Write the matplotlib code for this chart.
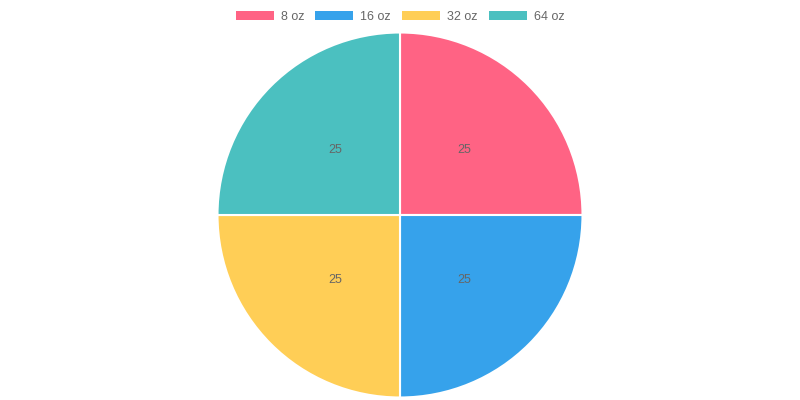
import matplotlib
matplotlib.use('Agg')
import matplotlib.pyplot as plt
from matplotlib.patches import Patch

# datos del grafico
etiquetas = ['8 oz', '16 oz', '32 oz', '64 oz']
valores = [25, 25, 25, 25]
colores = ['#FF6384', '#36A2EB', '#FFCE56', '#4BC0C0']

plt.rcParams['font.family'] = ['Liberation Sans', 'DejaVu Sans']

fig = plt.figure(figsize=(8, 4), dpi=100)
# centro (400,215) px, radio ~182.5 px
ax = fig.add_axes([217.5 / 800, 2.5 / 400, 365 / 800, 365 / 400])

wedges, textos = ax.pie(valores, colors=colores, startangle=90, counterclock=False,
                        labels=[str(v) for v in valores], labeldistance=0.5,
                        wedgeprops={'edgecolor': 'white', 'linewidth': 1.5},
                        textprops={'color': '#666666', 'fontsize': 9,
                                   'ha': 'center', 'va': 'center'})
ax.set_xlim(-1, 1)
ax.set_ylim(-1, 1)
ax.set_aspect('equal')

handles = [Patch(facecolor=c, edgecolor='none') for c in colores]
fig.legend(handles, etiquetas, loc='upper center', bbox_to_anchor=(0.5, 1.0),
           ncol=4, frameon=False, fontsize=9, labelcolor='#666666',
           handlelength=3.04, handleheight=0.8, handletextpad=0.56,
           columnspacing=0.88, borderaxespad=0.45)

plt.savefig('out.png', dpi=100)
